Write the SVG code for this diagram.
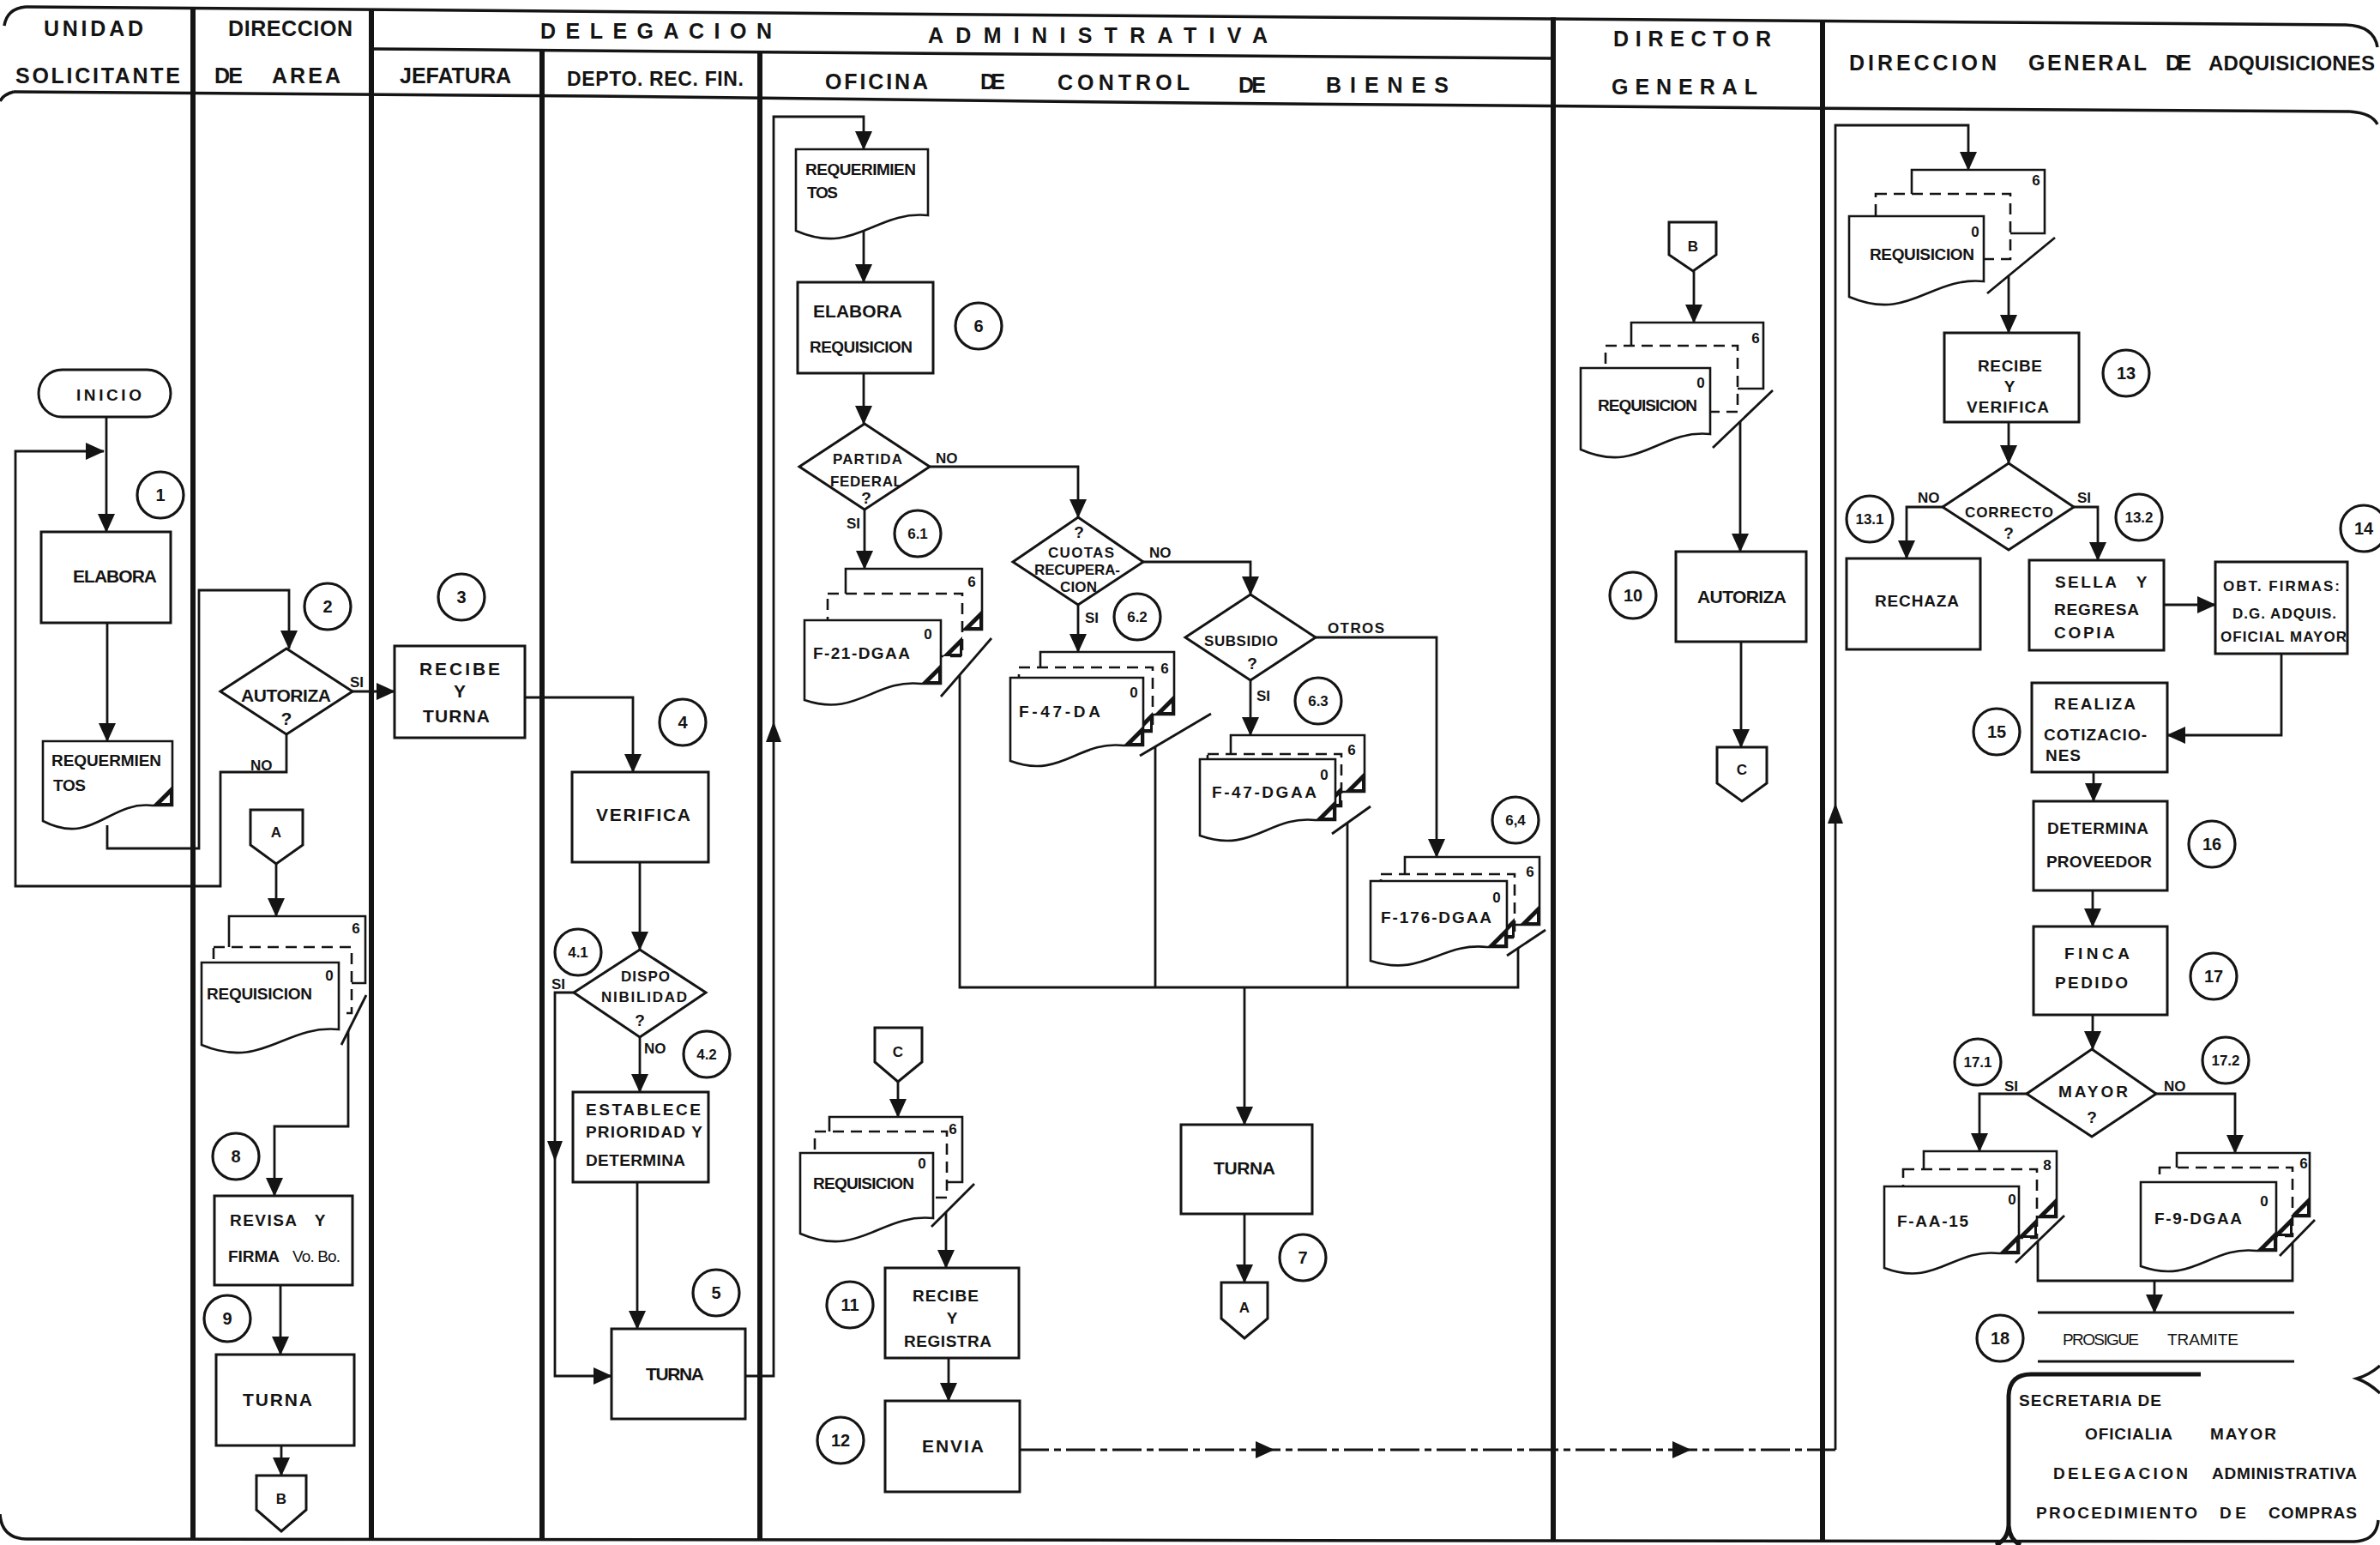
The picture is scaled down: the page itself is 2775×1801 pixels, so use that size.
<svg xmlns="http://www.w3.org/2000/svg" width="2775" height="1801" viewBox="0 0 2775 1801">
<defs>
<style>
.t{font-family:"Liberation Sans",Arial,sans-serif;font-weight:bold;fill:#141414}
.h{font-size:25px}
.n{font-size:21px}
.m{font-size:19px}
.k{font-size:17px}
.q{font-size:20px}
.qs{font-size:17px}
.box{fill:#fff;stroke:#141414;stroke-width:3}
.sh{fill:#fff;stroke:#141414;stroke-width:2.6}
.dsh{fill:#fff;stroke:#141414;stroke-width:2.6;stroke-dasharray:13 8}
.ln{fill:none;stroke:#141414;stroke-width:2.8}
.ar{fill:none;stroke:#141414;stroke-width:2.8;marker-end:url(#ah)}
.dv{fill:none;stroke:#141414;stroke-width:6}
.fr{fill:none;stroke:#141414;stroke-width:3.5}
.ci{fill:#fff;stroke:#141414;stroke-width:3.2}
.bk{fill:#141414}
.wh{fill:#fff}
</style>
<marker id="ah" markerUnits="userSpaceOnUse" markerWidth="22" markerHeight="20" refX="21" refY="10" orient="auto" viewBox="0 0 22 20">
<path d="M0,0 L22,10 L0,20 Z" fill="#141414"/>
</marker>
</defs>
<rect width="2775" height="1801" fill="#fff"/>

<g id="frame">
<path class="fr" d="M30,8 L1400,19 L2735,29 Q2768,30 2772,55"/>
<path class="fr" d="M30,8 Q8,10 5,30"/>
<path class="fr" d="M433,57 L1811,68"/>
<path class="fr" d="M16,107 L690,112 L1390,120 L2090,126 L2740,130"/>
<path class="fr" d="M16,107 Q4,110 0,118"/>
<path class="fr" d="M2740,130 Q2766,132 2772,145"/>
<path class="fr" d="M30,1794 L2745,1797"/>
<path class="fr" d="M0,1765 Q2,1793 30,1794"/>
<path class="fr" d="M2745,1797 Q2771,1796 2773,1772"/>
<path class="fr" d="M2775,1592 Q2762,1603 2748,1607 Q2762,1612 2775,1624"/>
<path class="dv" d="M225,8 V1795 M433,10 V1795 M632,57 V1795 M886,62 V1796 M1811,20 V1797 M2125,25 V1797"/>
</g>

<g id="header">
<text class="t h" x="51" y="42" textLength="116">UNIDAD</text>
<text class="t h" x="18" y="97" textLength="192">SOLICITANTE</text>
<text class="t h" x="266" y="42" textLength="145">DIRECCION</text>
<text class="t h" x="250" y="97" textLength="33">DE</text>
<text class="t h" x="317" y="97" textLength="80">AREA</text>
<text class="t h" x="630" y="45" textLength="270">DELEGACION</text>
<text class="t h" x="1082" y="50" textLength="396">ADMINISTRATIVA</text>
<text class="t h" x="466" y="97" textLength="130">JEFATURA</text>
<text class="t" style="font-size:23px" x="661" y="100" textLength="206">DEPTO. REC. FIN.</text>
<text class="t h" x="962" y="104" textLength="120">OFICINA</text>
<text class="t h" x="1143" y="104" textLength="29">DE</text>
<text class="t h" x="1233" y="105" textLength="154">CONTROL</text>
<text class="t h" x="1444" y="108" textLength="32">DE</text>
<text class="t h" x="1546" y="108" textLength="143">BIENES</text>
<text class="t h" x="1881" y="54" textLength="184">DIRECTOR</text>
<text class="t h" x="1879" y="110" textLength="170">GENERAL</text>
<text class="t h" x="2156" y="82" textLength="172">DIRECCION</text>
<text class="t h" x="2365" y="82" textLength="138">GENERAL</text>
<text class="t h" x="2525" y="82" textLength="30">DE</text>
<text class="t" style="font-size:24px" x="2575" y="82" textLength="194">ADQUISICIONES</text>
</g>

<g id="connectors">
<path class="ar" d="M124,486 V620"/>
<path class="ar" d="M334,856 V900 H257 V1033 H18 V526 H121"/>
<path class="ar" d="M125,726 V864"/>
<path class="ar" d="M125,962 V989 H232 V688 H337 V756"/>
<path class="ar" d="M411,806 H460"/>
<path class="ar" d="M322,1007 V1068"/>
<path class="ar" d="M406,1202 V1313 H320 V1394"/>
<path class="ar" d="M327,1498 V1579"/>
<path class="ar" d="M328,1685 V1720"/>
<path class="ar" d="M612,813 H738 V900"/>
<path class="ar" d="M746,1005 V1107"/>
<path class="ar" d="M669,1157 H647 V1604 H713"/>
<path class="ar" d="M746,1209 V1273"/>
<path class="ar" d="M743,1378 V1549"/>
<path class="ar" d="M869,1604 H902 V136 H1007 V174"/>
<path class="ar" d="M1007,264 V329"/>
<path class="ar" d="M1007,435 V494"/>
<path class="ar" d="M1084,544 H1257 V603"/>
<path class="ar" d="M1008,594 V663"/>
<path class="ar" d="M1333,655 H1458 V693"/>
<path class="ar" d="M1257,705 V760"/>
<path class="ar" d="M1534,743 H1675 V999"/>
<path class="ar" d="M1458,793 V857"/>
<path class="ln" d="M1119,787 V1151 H1770 V1105 M1347,870 V1151 M1571,959 V1151"/>
<path class="ar" d="M1451,1151 V1311"/>
<path class="ar" d="M1451,1415 V1495"/>
<path class="ar" d="M1047,1261 V1302"/>
<path class="ar" d="M1103,1413 V1478"/>
<path class="ar" d="M1106,1583 V1633"/>
<path class="ln" style="stroke-dasharray:34 6 8 6" d="M1189,1690 H2140"/>
<path class="ar" d="M2140,1690 V146 H2295 V198"/>
<path class="ar" d="M1975,316 V376"/>
<path class="ar" d="M2029,491 V643"/>
<path class="ar" d="M2030,748 V871"/>
<path class="ar" d="M2342,321 V388"/>
<path class="ar" d="M2342,492 V540"/>
<path class="ar" d="M2265,591 H2223 V651"/>
<path class="ar" d="M2418,591 H2446 V653"/>
<path class="ar" d="M2523,705 H2583"/>
<path class="ar" d="M2660,762 V857 H2527"/>
<path class="ar" d="M2441,900 V934"/>
<path class="ar" d="M2440,1038 V1080"/>
<path class="ar" d="M2440,1183 V1223"/>
<path class="ar" d="M2363,1275 H2308 V1342"/>
<path class="ar" d="M2514,1275 H2606 V1344"/>
<path class="ln" d="M2376,1447 V1493 H2673 V1449"/>
<path class="ar" d="M2512,1493 V1530"/>
<polygon class="bk" points="902,841 893,865 911,865"/>
<polygon class="bk" points="647,1354 638,1330 656,1330"/>
<polygon class="bk" points="2140,936 2131,960 2149,960"/>
<polygon class="bk" points="1486,1690 1464,1680 1464,1700"/>
<polygon class="bk" points="1972,1690 1950,1680 1950,1700"/>
<text class="t k" x="408" y="801">SI</text>
<text class="t k" x="292" y="898">NO</text>
<text class="t k" x="643" y="1153">SI</text>
<text class="t k" x="751" y="1228">NO</text>
<text class="t k" x="1091" y="540">NO</text>
<text class="t k" x="987" y="616">SI</text>
<text class="t k" x="1340" y="650">NO</text>
<text class="t k" x="1265" y="726">SI</text>
<text class="t k" x="1548" y="738" textLength="66">OTROS</text>
<text class="t k" x="1465" y="817">SI</text>
<text class="t k" x="2236" y="586">NO</text>
<text class="t k" x="2422" y="586">SI</text>
<text class="t k" x="2337" y="1272">SI</text>
<text class="t k" x="2523" y="1272">NO</text>
</g>

<g id="n-inicio"><rect class="box" x="45" y="431" width="154" height="55" rx="27.5"/><text class="t m" x="89" y="467" textLength="76">INICIO</text></g>
<g id="n-elabora"><rect class="box" x="48" y="620" width="151" height="106"/><text class="t n" x="85" y="679" textLength="98">ELABORA</text></g>
<g id="d-requerimientos1">
<path class="sh" d="M50,864 H201 V939 H178 C127,933 108,987 50,957 Z"/>
<polygon class="bk" points="201,916 201,939 178,939"/><polygon class="wh" points="198,926 198,936 188,936"/>
<text class="t m" x="60" y="893" textLength="128">REQUERMIEN</text>
<text class="t m" x="62" y="922" textLength="38">TOS</text>
</g>
<g id="q-autoriza"><polygon class="box" points="334,756 411,806 334,856 257,806"/><text class="t n" x="281" y="818" textLength="105">AUTORIZA</text><text class="t n" x="334" y="845" text-anchor="middle">?</text></g>
<g id="c-a1"><polygon class="box" points="292,944 353,944 353,985 322,1007 292,985"/><text class="t k" x="322" y="976" text-anchor="middle">A</text></g>
<g id="s-req-area">
<path class="sh" d="M267,1068 H426 V1146 H267 Z"/>
<path class="dsh" d="M249,1104 H410 V1181 H249 Z"/>
<path class="sh" d="M235,1122 H395 V1200 C331,1194 307,1248 235,1218 Z"/>
<path class="ln" d="M427,1160 L398,1218"/>
<text class="t k" x="415" y="1088" text-anchor="middle">6</text>
<text class="t k" x="384" y="1143" text-anchor="middle">0</text>
<text class="t m" x="241" y="1165" textLength="123">REQUISICION</text>
</g>
<g id="n-revisa"><rect class="box" x="250" y="1394" width="161" height="104"/><text class="t m" x="268" y="1429" textLength="78">REVISA</text><text class="t m" x="373" y="1429" text-anchor="middle">Y</text><text class="t m" x="266" y="1471" textLength="60">FIRMA</text><text class="t m" style="font-weight:normal" x="341" y="1471" textLength="56">Vo. Bo.</text></g>
<g id="n-turna-area"><rect class="box" x="252" y="1579" width="161" height="106"/><text class="t n" x="283" y="1639" textLength="81">TURNA</text></g>
<g id="c-b1"><polygon class="box" points="299,1720 357,1720 357,1760 328,1785 299,1760"/><text class="t k" x="328" y="1753" text-anchor="middle">B</text></g>

<g id="n-recibe-turna"><rect class="box" x="460" y="753" width="152" height="107"/><text class="t n" x="489" y="787" textLength="94">RECIBE</text><text class="t n" x="536" y="813" text-anchor="middle">Y</text><text class="t n" x="493" y="842" textLength="78">TURNA</text></g>
<g id="n-verifica"><rect class="box" x="667" y="900" width="159" height="105"/><text class="t n" x="695" y="957" textLength="110">VERIFICA</text></g>
<g id="q-dispo"><polygon class="box" points="746,1107 823,1157 746,1209 669,1157"/><text class="t k" x="724" y="1144" textLength="57">DISPO</text><text class="t k" x="701" y="1168" textLength="100">NIBILIDAD</text><text class="t m" x="746" y="1196" text-anchor="middle">?</text></g>
<g id="n-establece"><rect class="box" x="668" y="1273" width="158" height="105"/><text class="t m" x="683" y="1300" textLength="134">ESTABLECE</text><text class="t m" x="683" y="1326" textLength="136">PRIORIDAD  Y</text><text class="t m" x="683" y="1359" textLength="116">DETERMINA</text></g>
<g id="n-turna-5"><rect class="box" x="713" y="1549" width="156" height="105"/><text class="t n" x="753" y="1609" textLength="68">TURNA</text></g>

<g id="d-requerimientos2">
<path class="sh" d="M928,174 H1082 V251 C1020,245 997,299 928,269 Z"/>
<text class="t m" x="939" y="204" textLength="129">REQUERIMIEN</text>
<text class="t m" x="941" y="231" textLength="36">TOS</text>
</g>
<g id="n-elabora-req"><rect class="box" x="930" y="329" width="158" height="106"/><text class="t n" x="948" y="370" textLength="104">ELABORA</text><text class="t m" x="944" y="411" textLength="120">REQUISICION</text></g>
<g id="q-partida"><polygon class="box" points="1008,494 1084,544 1008,594 932,544"/><text class="t k" x="971" y="541" textLength="81">PARTIDA</text><text class="t k" x="968" y="567" textLength="84">FEDERAL</text><text class="t m" x="1010" y="587" text-anchor="middle">?</text></g>
<g id="q-cuotas"><polygon class="box" points="1257,603 1333,655 1257,705 1181,655"/><text class="t m" x="1258" y="627" text-anchor="middle">?</text><text class="t k" x="1222" y="650" textLength="77">CUOTAS</text><text class="t k" x="1206" y="670" textLength="100">RECUPERA-</text><text class="t k" x="1236" y="690" textLength="43">CION</text></g>
<g id="q-subsidio"><polygon class="box" points="1458,693 1534,743 1458,793 1382,743"/><text class="t k" x="1404" y="753" textLength="86">SUBSIDIO</text><text class="t m" x="1460" y="780" text-anchor="middle">?</text></g>

<g id="s-f21">
<path class="sh" d="M986,663 H1145 V734 H986 Z"/>
<polygon class="bk" points="1145,711 1145,734 1122,734"/><polygon class="wh" points="1142,721 1142,731 1132,731"/>
<path class="dsh" d="M965,692 H1122 V765 H965 Z"/>
<polygon class="bk" points="1122,742 1122,765 1099,765"/><polygon class="wh" points="1119,752 1119,762 1109,762"/>
<path class="sh" d="M938,723 H1097 V797 H1074 C1020,791 999,837 938,816 Z"/>
<polygon class="bk" points="1097,774 1097,797 1074,797"/><polygon class="wh" points="1094,784 1094,794 1084,794"/>
<path class="ln" d="M1156,744 L1097,812"/>
<text class="t k" x="1133" y="684" text-anchor="middle">6</text>
<text class="t k" x="1082" y="745" text-anchor="middle">0</text>
<text class="t m" x="948" y="768" textLength="113">F-21-DGAA</text>
</g>
<g id="s-f47da">
<path class="sh" d="M1213,760 H1369 V833 H1213 Z"/>
<polygon class="bk" points="1369,810 1369,833 1346,833"/><polygon class="wh" points="1366,820 1366,830 1356,830"/>
<path class="dsh" d="M1188,778 H1344 V853 H1188 Z"/>
<polygon class="bk" points="1344,830 1344,853 1321,853"/><polygon class="wh" points="1341,840 1341,850 1331,850"/>
<path class="sh" d="M1178,790 H1333 V869 H1310 C1257,863 1237,909 1178,887 Z"/>
<polygon class="bk" points="1333,846 1333,869 1310,869"/><polygon class="wh" points="1330,856 1330,866 1320,866"/>
<path class="ln" d="M1412,832 L1329,881"/>
<text class="t k" x="1358" y="785" text-anchor="middle">6</text>
<text class="t k" x="1322" y="813" text-anchor="middle">0</text>
<text class="t m" x="1188" y="836" textLength="95">F-47-DA</text>
</g>
<g id="s-f47dgaa">
<path class="sh" d="M1435,857 H1591 V923 H1435 Z"/>
<polygon class="bk" points="1591,900 1591,923 1568,923"/><polygon class="wh" points="1588,910 1588,920 1578,920"/>
<path class="dsh" d="M1408,879 H1564 V940 H1408 Z"/>
<polygon class="bk" points="1564,917 1564,940 1541,940"/><polygon class="wh" points="1561,927 1561,937 1551,937"/>
<path class="sh" d="M1399,885 H1557 V956 H1534 C1480,950 1460,996 1399,974 Z"/>
<polygon class="bk" points="1557,933 1557,956 1534,956"/><polygon class="wh" points="1554,943 1554,953 1544,953"/>
<path class="ln" d="M1598,940 L1553,972"/>
<text class="t k" x="1576" y="880" text-anchor="middle">6</text>
<text class="t k" x="1544" y="909" text-anchor="middle">0</text>
<text class="t m" x="1413" y="930" textLength="122">F-47-DGAA</text>
</g>
<g id="s-f176">
<path class="sh" d="M1638,999 H1795 V1078 H1638 Z"/>
<polygon class="bk" points="1795,1055 1795,1078 1772,1078"/><polygon class="wh" points="1792,1065 1792,1075 1782,1075"/>
<path class="dsh" d="M1610,1019 H1766 V1093 H1610 Z"/>
<polygon class="bk" points="1766,1070 1766,1093 1743,1093"/><polygon class="wh" points="1763,1080 1763,1090 1753,1090"/>
<path class="sh" d="M1598,1027 H1757 V1104 H1734 C1680,1098 1659,1140 1598,1120 Z"/>
<polygon class="bk" points="1757,1081 1757,1104 1734,1104"/><polygon class="wh" points="1754,1091 1754,1101 1744,1101"/>
<path class="ln" d="M1802,1084 L1757,1114"/>
<text class="t k" x="1784" y="1022" text-anchor="middle">6</text>
<text class="t k" x="1745" y="1052" text-anchor="middle">0</text>
<text class="t m" x="1610" y="1076" textLength="129">F-176-DGAA</text>
</g>
<g id="n-turna-7"><rect class="box" x="1377" y="1311" width="153" height="104"/><text class="t n" x="1415" y="1369" textLength="72">TURNA</text></g>
<g id="c-a2"><polygon class="box" points="1424,1495 1478,1495 1478,1537 1451,1560 1424,1537"/><text class="t k" x="1451" y="1530" text-anchor="middle">A</text></g>
<g id="c-c1"><polygon class="box" points="1020,1198 1075,1198 1075,1238 1047,1261 1020,1238"/><text class="t k" x="1047" y="1232" text-anchor="middle">C</text></g>
<g id="s-req-ocb">
<path class="sh" d="M967,1302 H1122 V1378 H967 Z"/>
<path class="dsh" d="M950,1319 H1104 V1396 H950 Z"/>
<path class="sh" d="M933,1344 H1088 V1420 C1026,1414 1003,1468 933,1438 Z"/>
<path class="ln" d="M1136,1380 L1086,1430"/>
<text class="t k" x="1111" y="1322" text-anchor="middle">6</text>
<text class="t k" x="1075" y="1362" text-anchor="middle">0</text>
<text class="t m" x="948" y="1386" textLength="118">REQUISICION</text>
</g>
<g id="n-recibe-registra"><rect class="box" x="1032" y="1478" width="156" height="105"/><text class="t m" x="1064" y="1517" textLength="77">RECIBE</text><text class="t m" x="1110" y="1543" text-anchor="middle">Y</text><text class="t m" x="1054" y="1570" textLength="102">REGISTRA</text></g>
<g id="n-envia"><rect class="box" x="1032" y="1633" width="157" height="106"/><text class="t n" x="1075" y="1693" textLength="72">ENVIA</text></g>

<g id="c-b2"><polygon class="box" points="1946,259 2001,259 2001,297 1974,316 1946,297"/><text class="t k" x="1974" y="293" text-anchor="middle">B</text></g>
<g id="s-req-dir">
<path class="sh" d="M1902,376 H2056 V453 H1902 Z"/>
<path class="dsh" d="M1872,403 H2026 V480 H1872 Z"/>
<path class="sh" d="M1843,429 H1994 V506 C1934,500 1911,554 1843,524 Z"/>
<path class="ln" d="M2067,455 L1997,522"/>
<text class="t k" x="2047" y="400" text-anchor="middle">6</text>
<text class="t k" x="1983" y="452" text-anchor="middle">0</text>
<text class="t m" x="1863" y="479" textLength="116">REQUISICION</text>
</g>
<g id="n-autoriza-dir"><rect class="box" x="1954" y="643" width="152" height="105"/><text class="t n" x="1979" y="703" textLength="104">AUTORIZA</text></g>
<g id="c-c2"><polygon class="box" points="2002,871 2060,871 2060,913 2031,934 2002,913"/><text class="t k" x="2031" y="903" text-anchor="middle">C</text></g>

<g id="s-req-dga">
<path class="sh" d="M2229,198 H2384 V272 H2229 Z"/>
<path class="dsh" d="M2187,226 H2344 V302 H2187 Z"/>
<path class="sh" d="M2156,252 H2313 V328 C2250,322 2227,376 2156,346 Z"/>
<path class="ln" d="M2396,277 L2317,342"/>
<text class="t k" x="2374" y="216" text-anchor="middle">6</text>
<text class="t k" x="2303" y="276" text-anchor="middle">0</text>
<text class="t m" x="2180" y="303" textLength="122">REQUISICION</text>
</g>
<g id="n-recibe-verifica"><rect class="box" x="2267" y="388" width="157" height="104"/><text class="t m" x="2306" y="433" textLength="75">RECIBE</text><text class="t m" x="2343" y="457" text-anchor="middle">Y</text><text class="t m" x="2293" y="481" textLength="96">VERIFICA</text></g>
<g id="q-correcto"><polygon class="box" points="2342,540 2418,591 2342,641 2265,591"/><text class="t k" x="2291" y="603" textLength="103">CORRECTO</text><text class="t m" x="2342" y="628" text-anchor="middle">?</text></g>
<g id="n-rechaza"><rect class="box" x="2153" y="651" width="156" height="106"/><text class="t m" x="2186" y="707" textLength="98">RECHAZA</text></g>
<g id="n-sella"><rect class="box" x="2366" y="653" width="157" height="105"/><text class="t m" x="2396" y="685" textLength="72">SELLA</text><text class="t m" x="2497" y="685" text-anchor="middle">Y</text><text class="t m" x="2395" y="717" textLength="99">REGRESA</text><text class="t m" x="2395" y="744" textLength="71">COPIA</text></g>
<g id="n-obt"><rect class="box" x="2583" y="655" width="154" height="107"/><text class="t k" x="2592" y="689" textLength="136">OBT.  FIRMAS:</text><text class="t k" x="2603" y="721" textLength="121">D.G.  ADQUIS.</text><text class="t k" x="2589" y="748" textLength="147">OFICIAL MAYOR</text></g>
<g id="n-realiza"><rect class="box" x="2369" y="796" width="158" height="104"/><text class="t m" x="2395" y="827" textLength="95">REALIZA</text><text class="t m" x="2383" y="863" textLength="120">COTIZACIO-</text><text class="t m" x="2385" y="887" textLength="41">NES</text></g>
<g id="n-determina"><rect class="box" x="2371" y="934" width="156" height="104"/><text class="t m" x="2387" y="972" textLength="118">DETERMINA</text><text class="t m" x="2386" y="1011" textLength="123">PROVEEDOR</text></g>
<g id="n-finca"><rect class="box" x="2371" y="1080" width="156" height="103"/><text class="t m" x="2407" y="1118" textLength="76">FINCA</text><text class="t m" x="2396" y="1152" textLength="85">PEDIDO</text></g>
<g id="q-mayor"><polygon class="box" points="2439,1223 2514,1275 2439,1325 2363,1275"/><text class="t m" x="2400" y="1279" textLength="81">MAYOR</text><text class="t m" x="2439" y="1309" text-anchor="middle">?</text></g>
<g id="s-faa15">
<path class="sh" d="M2243,1342 H2398 V1419 H2243 Z"/>
<polygon class="bk" points="2398,1396 2398,1419 2375,1419"/><polygon class="wh" points="2395,1406 2395,1416 2385,1416"/>
<path class="dsh" d="M2219,1363 H2375 V1443 H2219 Z"/>
<polygon class="bk" points="2375,1420 2375,1443 2352,1443"/><polygon class="wh" points="2372,1430 2372,1440 2362,1440"/>
<path class="sh" d="M2197,1383 H2354 V1461 H2331 C2277,1455 2257,1501 2197,1478 Z"/>
<polygon class="bk" points="2354,1438 2354,1461 2331,1461"/><polygon class="wh" points="2351,1448 2351,1458 2341,1458"/>
<path class="ln" d="M2407,1417 L2350,1472"/>
<text class="t k" x="2387" y="1364" text-anchor="middle">8</text>
<text class="t k" x="2346" y="1404" text-anchor="middle">0</text>
<text class="t m" x="2212" y="1430" textLength="83">F-AA-15</text>
</g>
<g id="s-f9">
<path class="sh" d="M2538,1344 H2693 V1418 H2538 Z"/>
<polygon class="bk" points="2693,1395 2693,1418 2670,1418"/><polygon class="wh" points="2690,1405 2690,1415 2680,1415"/>
<path class="dsh" d="M2518,1361 H2673 V1441 H2518 Z"/>
<polygon class="bk" points="2673,1418 2673,1441 2650,1441"/><polygon class="wh" points="2670,1428 2670,1438 2660,1438"/>
<path class="sh" d="M2496,1378 H2654 V1458 H2631 C2577,1452 2557,1498 2496,1476 Z"/>
<polygon class="bk" points="2654,1435 2654,1458 2631,1458"/><polygon class="wh" points="2651,1445 2651,1455 2641,1455"/>
<path class="ln" d="M2699,1422 L2658,1464"/>
<text class="t k" x="2686" y="1362" text-anchor="middle">6</text>
<text class="t k" x="2640" y="1406" text-anchor="middle">0</text>
<text class="t m" x="2512" y="1427" textLength="102">F-9-DGAA</text>
</g>
<g id="n-prosigue"><path class="ln" d="M2376,1530 H2675 M2376,1587 H2675"/><text class="t m" style="font-weight:normal" x="2405" y="1568" textLength="89">PROSIGUE</text><text class="t m" style="font-weight:normal" x="2527" y="1568" textLength="83">TRAMITE</text></g>

<g id="title-block">
<path class="fr" style="stroke-width:5" d="M2566,1602 H2368 Q2343,1602 2342,1627 V1778 M2342,1778 Q2341,1795 2327,1801 M2342,1778 Q2343,1795 2356,1801"/>
<text class="t m" x="2354" y="1639" textLength="166">SECRETARIA DE</text>
<text class="t m" x="2431" y="1678" textLength="102">OFICIALIA</text>
<text class="t m" x="2577" y="1678" textLength="77">MAYOR</text>
<text class="t m" x="2394" y="1724" textLength="157">DELEGACION</text>
<text class="t m" x="2579" y="1724" textLength="169">ADMINISTRATIVA</text>
<text class="t m" x="2374" y="1770" textLength="188">PROCEDIMIENTO</text>
<text class="t m" x="2588" y="1770" textLength="31">DE</text>
<text class="t m" x="2645" y="1770" textLength="103">COMPRAS</text>
</g>

<g id="step-1"><circle class="ci" cx="187" cy="577" r="27"/><text class="t q" x="187" y="584" text-anchor="middle">1</text></g>
<g id="step-2"><circle class="ci" cx="382" cy="707" r="27"/><text class="t q" x="382" y="714" text-anchor="middle">2</text></g>
<g id="step-3"><circle class="ci" cx="538" cy="696" r="27"/><text class="t q" x="538" y="703" text-anchor="middle">3</text></g>
<g id="step-4"><circle class="ci" cx="796" cy="842" r="27"/><text class="t q" x="796" y="849" text-anchor="middle">4</text></g>
<g id="step-4-1"><circle class="ci" cx="674" cy="1110" r="27"/><text class="t qs" x="674" y="1116" text-anchor="middle">4.1</text></g>
<g id="step-4-2"><circle class="ci" cx="824" cy="1229" r="27"/><text class="t qs" x="824" y="1235" text-anchor="middle">4.2</text></g>
<g id="step-5"><circle class="ci" cx="835" cy="1507" r="27"/><text class="t q" x="835" y="1514" text-anchor="middle">5</text></g>
<g id="step-6"><circle class="ci" cx="1141" cy="380" r="27"/><text class="t q" x="1141" y="387" text-anchor="middle">6</text></g>
<g id="step-6-1"><circle class="ci" cx="1070" cy="622" r="27"/><text class="t qs" x="1070" y="628" text-anchor="middle">6.1</text></g>
<g id="step-6-2"><circle class="ci" cx="1326" cy="719" r="27"/><text class="t qs" x="1326" y="725" text-anchor="middle">6.2</text></g>
<g id="step-6-3"><circle class="ci" cx="1537" cy="817" r="27"/><text class="t qs" x="1537" y="823" text-anchor="middle">6.3</text></g>
<g id="step-6-4"><circle class="ci" cx="1767" cy="956" r="27"/><text class="t qs" x="1767" y="962" text-anchor="middle">6,4</text></g>
<g id="step-7"><circle class="ci" cx="1519" cy="1466" r="27"/><text class="t q" x="1519" y="1473" text-anchor="middle">7</text></g>
<g id="step-8"><circle class="ci" cx="275" cy="1348" r="27"/><text class="t q" x="275" y="1355" text-anchor="middle">8</text></g>
<g id="step-9"><circle class="ci" cx="265" cy="1537" r="27"/><text class="t q" x="265" y="1544" text-anchor="middle">9</text></g>
<g id="step-10"><circle class="ci" cx="1904" cy="694" r="27"/><text class="t q" x="1904" y="701" text-anchor="middle">10</text></g>
<g id="step-11"><circle class="ci" cx="991" cy="1521" r="27"/><text class="t q" x="991" y="1528" text-anchor="middle">11</text></g>
<g id="step-12"><circle class="ci" cx="980" cy="1679" r="27"/><text class="t q" x="980" y="1686" text-anchor="middle">12</text></g>
<g id="step-13"><circle class="ci" cx="2479" cy="435" r="27"/><text class="t q" x="2479" y="442" text-anchor="middle">13</text></g>
<g id="step-13-1"><circle class="ci" cx="2180" cy="605" r="27"/><text class="t qs" x="2180" y="611" text-anchor="middle">13.1</text></g>
<g id="step-13-2"><circle class="ci" cx="2494" cy="603" r="27"/><text class="t qs" x="2494" y="609" text-anchor="middle">13.2</text></g>
<g id="step-14"><circle class="ci" cx="2756" cy="616" r="27"/><text class="t q" x="2756" y="623" text-anchor="middle">14</text></g>
<g id="step-15"><circle class="ci" cx="2328" cy="853" r="27"/><text class="t q" x="2328" y="860" text-anchor="middle">15</text></g>
<g id="step-16"><circle class="ci" cx="2579" cy="984" r="27"/><text class="t q" x="2579" y="991" text-anchor="middle">16</text></g>
<g id="step-17"><circle class="ci" cx="2581" cy="1138" r="27"/><text class="t q" x="2581" y="1145" text-anchor="middle">17</text></g>
<g id="step-17-1"><circle class="ci" cx="2306" cy="1238" r="27"/><text class="t qs" x="2306" y="1244" text-anchor="middle">17.1</text></g>
<g id="step-17-2"><circle class="ci" cx="2595" cy="1236" r="27"/><text class="t qs" x="2595" y="1242" text-anchor="middle">17.2</text></g>
<g id="step-18"><circle class="ci" cx="2332" cy="1560" r="27"/><text class="t q" x="2332" y="1567" text-anchor="middle">18</text></g>
</svg>
